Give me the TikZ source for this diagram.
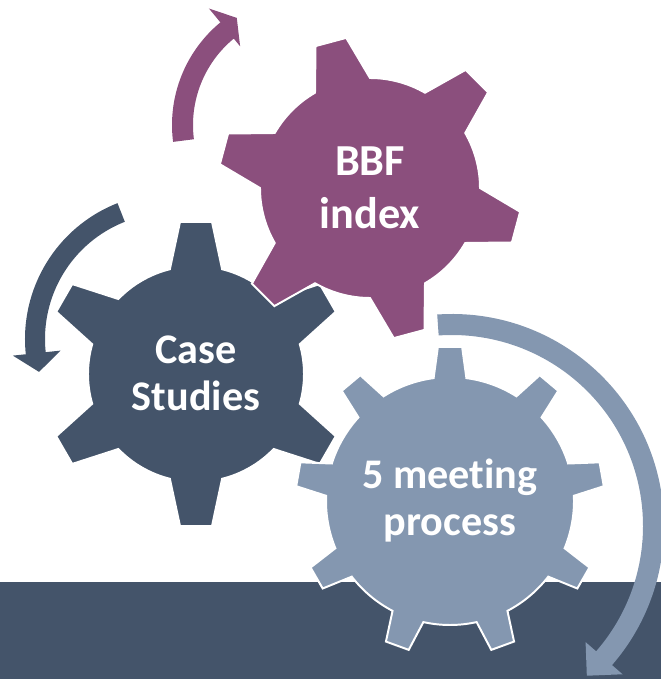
\documentclass[tikz,border=0pt]{standalone}
\usepackage{fontspec}
\setmainfont{Carlito}[Ligatures=CommonOff]
\usetikzlibrary{positioning}
\definecolor{slate}{HTML}{44546A}
\definecolor{plum}{HTML}{8B4F7D}
\definecolor{steel}{HTML}{8497B0}

% teeth, first tooth angle, body radius, tip radius, half base angle, half tip angle
\newcommand{\gearpath}[6]{%
  ({#2-#5}:#3)
  \foreach \k in {1,...,#1}{
    -- ({#2+(\k-1)*360/#1-#6}:#4) -- ({#2+(\k-1)*360/#1+#6}:#4)
    -- ({#2+(\k-1)*360/#1+#5}:#3)
    arc[start angle={#2+(\k-1)*360/#1+#5}, end angle={#2+\k*360/#1-#5}, radius=#3]
  } -- cycle}

\begin{document}
\begin{tikzpicture}[x=0.025cm,y=0.025cm,
  gear/.style={draw=white,line width=1.4pt},
  gtext/.style={text=white,align=center,font=\bfseries\fontsize{30pt}{33.4pt}\selectfont}]
  \useasboundingbox (0,0) rectangle (661,679);
  \clip (0,0) rectangle (661,679);

  % centres
  \coordinate (cs) at (196,305);
  \coordinate (bi) at (370,491);
  \coordinate (mp) at (450,178);

  % floor
  \fill[slate] (0,0) rectangle (661,97);

  % turning arrows
  \fill[slate,shift={(171,340)}] (111.5:146) arc[start angle=111.5,end angle=186,radius=146]
    -- (186:159) -- (194:136) -- (186:111) -- (186:126)
    arc[start angle=186,end angle=111.5,radius=126] -- cycle;
  \fill[plum,shift={(305,554)}] (187.3:133) arc[start angle=187.3,end angle=129.5,radius=133]
    -- (129.5:151) -- (122.5:127) -- (129.5:102) -- (129.5:112)
    arc[start angle=129.5,end angle=187.3,radius=112] -- cycle;
  \fill[steel,shift={(452,153)}] (94:212) arc[start angle=94,end angle=-41,radius=212]
    -- (-41:226) -- (-48:201.5) -- (-41:177) -- (-41:191)
    arc[start angle=-41,end angle=94,radius=191] -- cycle;

  % gears
  \fill[slate,gear,shift={(cs)}] \gearpath{6}{30}{108}{153}{14}{6};
  \fill[plum,gear,shift={(bi)}] \gearpath{6}{45}{110}{152}{15}{6};
  \fill[steel,gear,shift={(mp)}] \gearpath{9}{10}{124}{154.5}{7.6}{4.5};

  \node[gtext] (case) at (196,305.8) {Case\\Studies};
  \node[gtext,font=\bfseries\fontsize{31.5pt}{37.5pt}\selectfont] (bbf) at (370,491.5) {BBF\\index};
  \node[gtext] (meet) at (450,178) {5 meeting\\process};
\end{tikzpicture}
\end{document}
